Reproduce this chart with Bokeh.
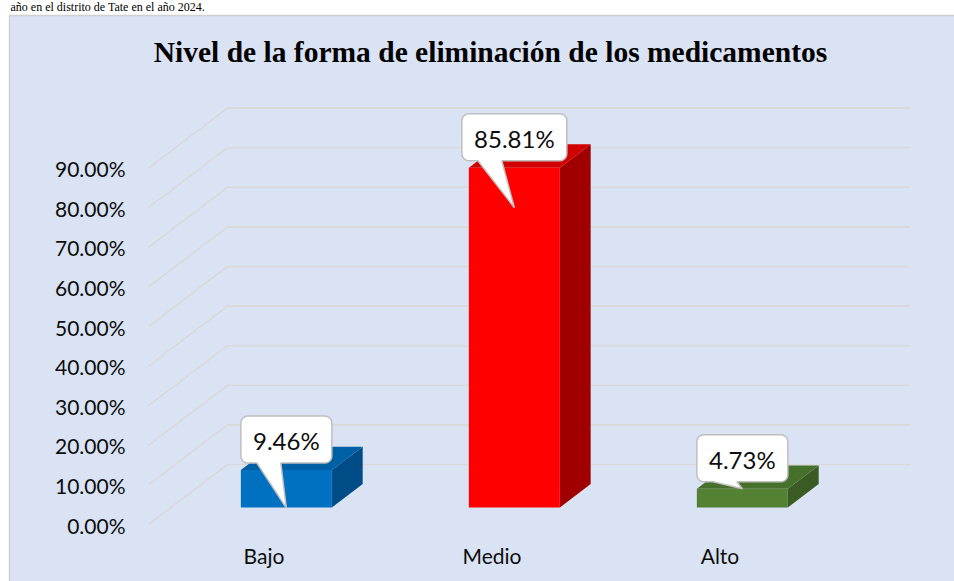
import numpy as np
from bokeh.plotting import figure
from bokeh.models import Range1d
from bokeh.core.properties import value
from bokeh.embed import file_html
from bokeh.resources import INLINE

# ---------------- data ----------------
categories = ["Bajo", "Medio", "Alto"]
percentages = [9.46, 85.81, 4.73]
value_labels = ["9.46%", "85.81%", "4.73%"]
y_ticks = [0, 10, 20, 30, 40, 50, 60, 70, 80, 90]
y_tick_labels = ["0.00%", "10.00%", "20.00%", "30.00%", "40.00%",
                 "50.00%", "60.00%", "70.00%", "80.00%", "90.00%"]
chart_title = "Nivel de la forma de eliminación de los medicamentos"
caption_fragment = "año en el distrito de Tate en el año 2024."

# ---------------- style ----------------
W, H = 954, 581
PX_X = 228.0      # pixels per category step
PX_Y = 3.96       # pixels per percent
ORIGIN_X = 263.5  # px of category 0 (front plane)
ORIGIN_Y = 524.0  # px (from top) of 0 % on the front plane

front_colors = ["#0070C0", "#FF0000", "#548235"]
top_colors = ["#0060A6", "#D20000", "#47702C"]
side_colors = ["#004C86", "#A00000", "#3A5B24"]
callout_tip_drop_px = [38, 40, 0]

BG = "#DAE3F3"
GRID = "#D9D9D9"
TXT = "#0D0D0D"
NUM_FONT = "Lato"


def dx(px):
    return px / PX_X


def dy(px):
    return px / PX_Y


def X(px):
    return (px - ORIGIN_X) / PX_X


def Y(px):
    return (ORIGIN_Y - px) / PX_Y


def base(px, size):
    # requested alphabetic baseline (px from top), compensated for renderer shift
    return Y(px - 0.4 * size)


WALL_DX, WALL_DY = dx(79), dy(60)
F0, F1 = 0.283, 0.673          # bar depth fractions inside the wall depth
HALF_W = dx(45.5)
GRID_X0, GRID_X1 = X(148), X(910) - WALL_DX

p = figure(width=W, height=H, output_backend="svg", toolbar_location=None,
           x_range=Range1d(X(0), X(W)), y_range=Range1d(Y(H), Y(0)),
           min_border=0, outline_line_color=None,
           background_fill_color="white", border_fill_color="white")
p.xaxis.visible = False
p.yaxis.visible = False
p.grid.visible = False

# chart area box
p.quad(left=[X(9)], right=[X(W + 20)], bottom=[Y(H + 20)], top=[Y(15)],
       fill_color=BG, line_color="#D0D0D0", line_width=1.5)

# document caption fragment above the chart
p.text(x=[X(10)], y=[base(11, 12)], text=[caption_fragment], text_align="left",
       text_baseline="alphabetic", text_font=value("Liberation Serif"),
       text_font_size="12px", text_color="#000000")

# 3D gridlines (front diagonal + back wall)
gxs, gys = [], []
for t in y_ticks:
    gxs.append([GRID_X0, GRID_X0 + WALL_DX, GRID_X1 + WALL_DX])
    gys.append([t, t + WALL_DY, t + WALL_DY])
p.multi_line(gxs, gys, line_color=GRID, line_width=1.6)

# tick labels
p.text(x=[GRID_X0 - dx(23)] * len(y_ticks),
       y=[t - dy(9) + dy(0.4 * 21) for t in y_ticks],
       text=y_tick_labels, text_align="right", text_baseline="alphabetic",
       text_font=value(NUM_FONT), text_font_size="21px", text_color=TXT)

# category labels
p.text(x=list(range(len(categories))), y=[base(563, 21)] * len(categories),
       text=categories, text_align="center", text_baseline="alphabetic",
       text_font=value(NUM_FONT), text_font_size="21px", text_color=TXT)

# 3D bars
ddx = (F1 - F0) * WALL_DX
ddy = (F1 - F0) * WALL_DY
fx, fy, tx, ty, sx, sy = [], [], [], [], [], []
bar_geo = []
for i, v in enumerate(percentages):
    cx = i + F0 * WALL_DX
    x0, x1 = cx - HALF_W, cx + HALF_W
    b = F0 * WALL_DY
    t = b + v
    fx.append([x0, x1, x1, x0]); fy.append([b, b, t, t])
    tx.append([x0, x1, x1 + ddx, x0 + ddx]); ty.append([t, t, t + ddy, t + ddy])
    sx.append([x1, x1 + ddx, x1 + ddx, x1]); sy.append([b, b + ddy, t + ddy, t])
    bar_geo.append((cx, b, t))

p.patches(sx, sy, fill_color=side_colors, line_color=None)
p.patches(tx, ty, fill_color=top_colors, line_color=None)
p.patches(fx, fy, fill_color=front_colors, line_color=None)

# callouts
cxs, cys, lx, ly = [], [], [], []
rx, ry = dx(7), dy(7)
for (cx, b, t), lab, drop in zip(bar_geo, value_labels, callout_tip_drop_px):
    wpx = 21 + 14 * len(lab)
    L, R = cx - dx(wpx / 2), cx + dx(wpx / 2)
    B = t + dy(7)
    T = B + dy(47)
    pl, pr = L + dx(16), L + dx(40)
    tipx, tipy = cx, t - dy(drop)
    xs = [L + rx, pl, tipx, pr]
    ys = [B, B, tipy, B]
    for (ccx, ccy, a0) in [(R - rx, B + ry, -90), (R - rx, T - ry, 0),
                           (L + rx, T - ry, 90), (L + rx, B + ry, 180)]:
        for a in np.linspace(np.radians(a0), np.radians(a0 + 90), 7):
            xs.append(ccx + rx * np.cos(a))
            ys.append(ccy + ry * np.sin(a))
    cxs.append(xs); cys.append(ys)
    lx.append(cx); ly.append((B + T) / 2 - dy(10.5) + dy(0.4 * 24))

p.patches(cxs, cys, fill_color="white", line_color="#BFBFBF", line_width=1.5)
p.text(x=lx, y=ly, text=value_labels, text_align="center",
       text_baseline="alphabetic", text_font=value(NUM_FONT),
       text_font_size="24px", text_color=TXT)

# title
p.text(x=[X(490)], y=[base(63, 29.5)], text=[chart_title],
       text_align="center", text_baseline="alphabetic",
       text_font=value("Liberation Serif"), text_font_style="bold",
       text_font_size="29.5px", text_color="#000000")

open("out.html", "w").write(file_html(p, INLINE))
